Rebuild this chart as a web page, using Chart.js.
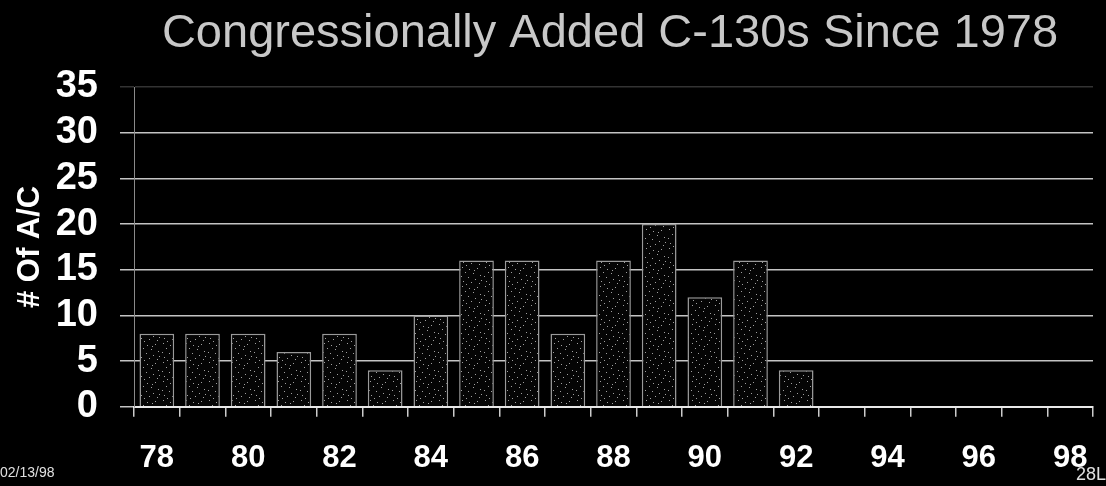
<!DOCTYPE html>
<html>
<head>
<meta charset="utf-8">
<script src="https://cdn.jsdelivr.net/npm/chart.js@4/dist/chart.umd.min.js"></script>
<style>
  body { margin: 0; background: #000; }
  #wrap { position: relative; width: 1106px; height: 486px; background: #000; }
  .foot { position: absolute; color: #e0e0e0; font-family: "Liberation Sans", Arial, sans-serif; }
</style>
</head>
<body>
<div id="wrap">
  <canvas id="myChart"></canvas>
  <span class="foot" style="left:0px; top:464px; font-size:14px;">02/13/98</span>
  <span class="foot" style="right:0px; top:464px; font-size:18px;">28L</span>
</div>
<script>
var titleText = 'Congressionally Added C-130s Since 1978';
var years = ['78', '79', '80', '81', '82', '83', '84', '85', '86', '87', '88',
             '89', '90', '91', '92', '93', '94', '95', '96', '97', '98'];
var aircraft = [8, 8, 8, 6, 8, 4, 10, 16, 16, 8, 16, 20, 12, 16, 4, 0, 0, 0, 0, 0, 0];
var yTicks = [0, 5, 10, 15, 20, 25, 30, 35];

// stippled fill like the scanned bars
function stipple() {
    var c = document.createElement('canvas');
    c.width = 23; c.height = 19;
    var g = c.getContext('2d');
    g.fillStyle = '#050505';
    g.fillRect(0, 0, 23, 19);
    g.fillStyle = '#a0a0a0';
    var dots = [[2,1],[9,3],[17,2],[5,6],[13,7],[20,9],[1,10],[8,11],[15,13],[3,15],[11,16],[19,17],[6,18],[14,4],[21,14]];
    dots.forEach(function(d) { g.fillRect(d[0], d[1], 1, 1); });
    return g.createPattern(c, 'repeat');
}

var font = '"Liberation Sans", Arial, sans-serif';

// title sits off-centre in the original slide
var slideTitle = {
    id: 'slideTitle',
    afterDraw: function(chart) {
        var g = chart.ctx;
        g.save();
        g.font = '47px ' + font;
        g.fillStyle = '#c8c8c8';
        g.textAlign = 'center';
        g.textBaseline = 'alphabetic';
        g.fillText(titleText, 610, 47);
        g.restore();
    }
};

var ctx = document.getElementById('myChart').getContext('2d');

var myChart = new Chart(ctx, {
    type: 'bar',
    data: {
        labels: years,
        datasets: [{
            label: '# Of A/C',
            data: aircraft,
            backgroundColor: stipple(),
            borderColor: '#9a9a9a',
            borderWidth: 1.5,
            borderSkipped: 'bottom',
            barPercentage: 0.76,
            categoryPercentage: 1.0
        }]
    },
    plugins: [slideTitle],
    options: {
        responsive: true,
        maintainAspectRatio: false,
        animation: false,
        layout: {
            padding: { left: 12, right: 13, top: 87, bottom: 2 }
        },
        plugins: {
            legend: { display: false },
            tooltip: { enabled: false },
            title: { display: false }
        },
        scales: {
            x: {
                offset: true,
                afterFit: function(scale) {
                    scale.height -= 16;
                    scale.paddingLeft = 0;
                    scale.paddingRight = 0;
                },
                grid: {
                    offset: true,
                    drawOnChartArea: false,
                    drawTicks: true,
                    tickLength: 10,
                    color: '#cccccc',
                    lineWidth: 1.5
                },
                border: { color: '#e8e8e8', width: 2 },
                ticks: {
                    autoSkip: false,
                    maxRotation: 0,
                    padding: 23,
                    color: '#ffffff',
                    font: { family: font, size: 31, weight: 'bold' },
                    callback: function(v, i) {
                        return i % 2 == 0 ? years[i] : '';
                    }
                }
            },
            y: {
                min: 0,
                max: 35,
                afterBuildTicks: function(scale) {
                    scale.ticks = yTicks.map(function(v) { return { value: v }; });
                },
                afterFit: function(scale) { scale.width = 122; },
                grid: {
                    color: function(c) {
                        if (c.tick && c.tick.value == 35) return 'rgba(170,170,170,0.3)';
                        return '#c4c4c4';
                    },
                    lineWidth: 1.5,
                    tickLength: 14
                },
                border: { color: '#8a8a8a' },
                ticks: {
                    autoSkip: false,
                    padding: 22,
                    color: '#ffffff',
                    font: { family: font, size: 38, weight: 'bold' }
                },
                title: {
                    display: true,
                    text: '# Of A/C',
                    color: '#ffffff',
                    padding: 0,
                    font: { family: font, size: 31, weight: 'bold' }
                }
            }
        }
    }
});
</script>
</body>
</html>
